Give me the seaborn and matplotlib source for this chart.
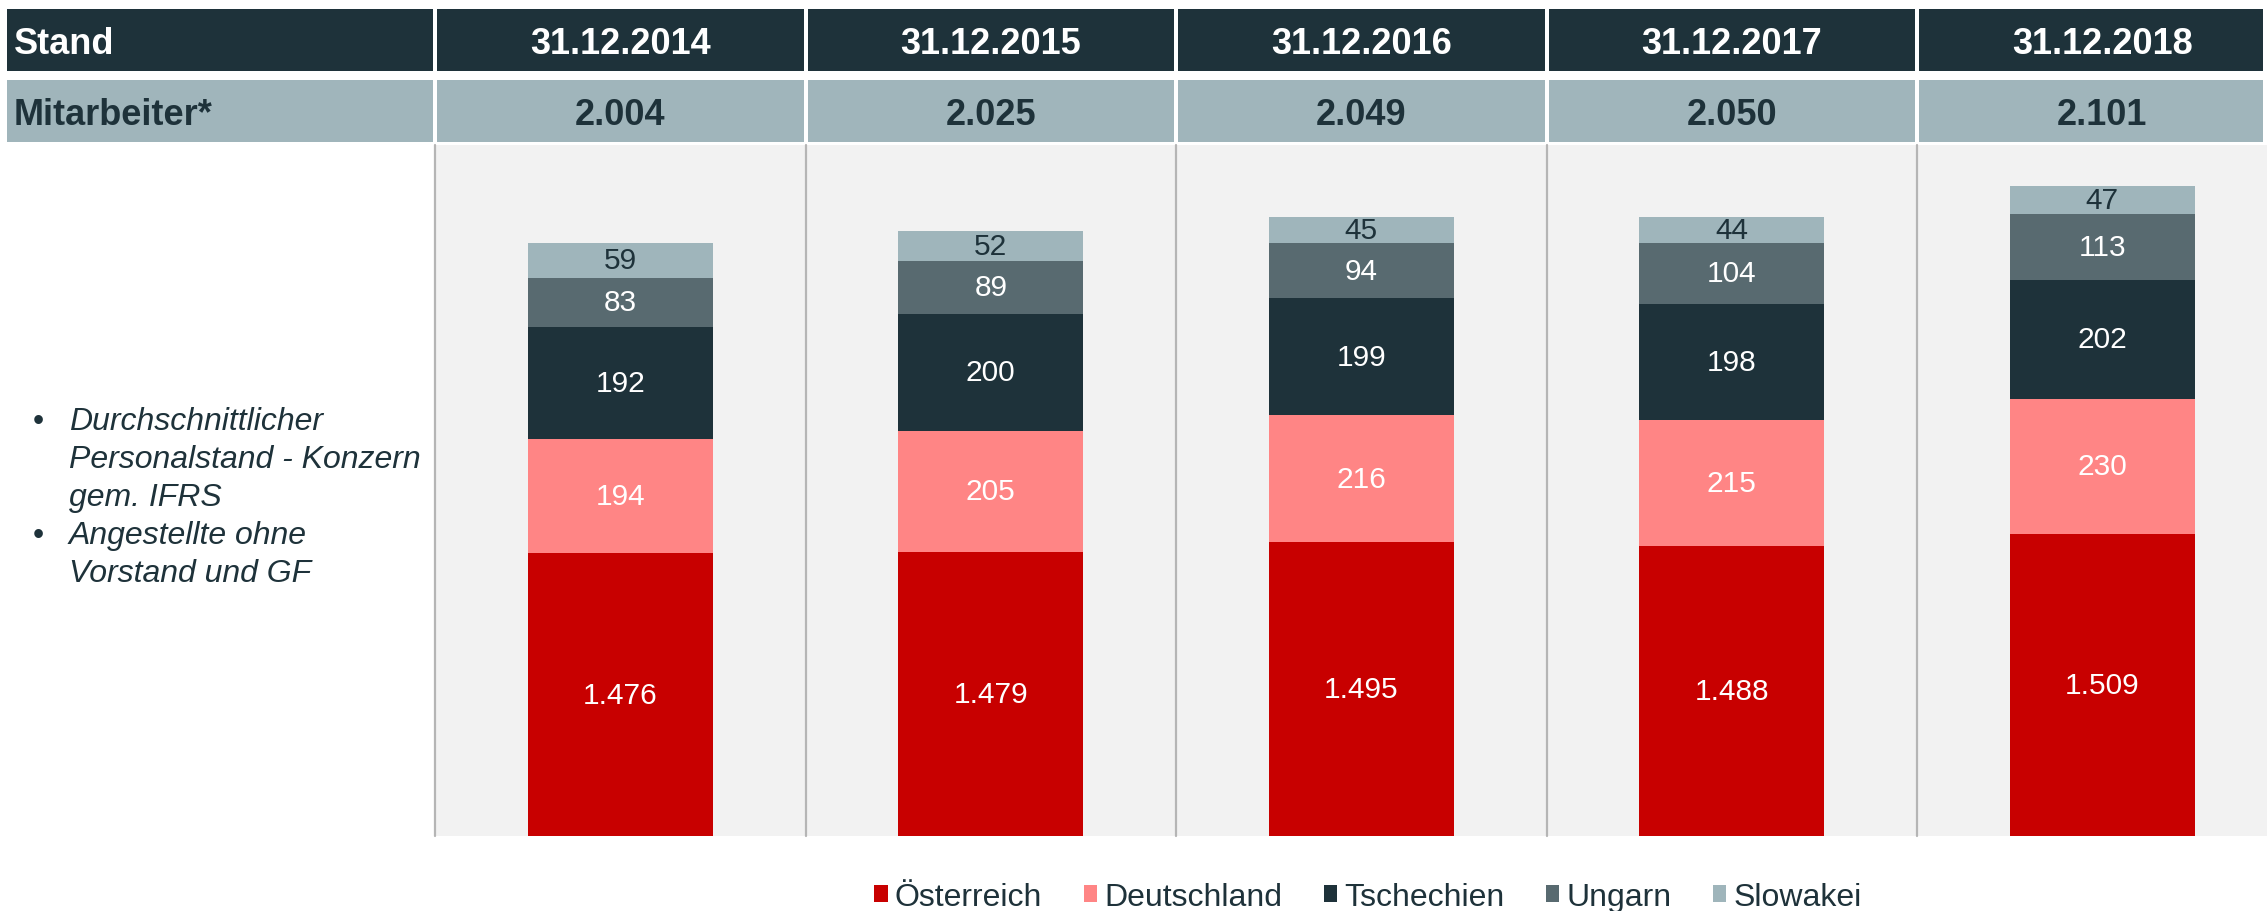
import matplotlib
matplotlib.use("Agg")
import matplotlib.pyplot as plt
from matplotlib.patches import Rectangle, Patch
import seaborn as sns

# ---- data -------------------------------------------------------------
dates = ["31.12.2014", "31.12.2015", "31.12.2016", "31.12.2017", "31.12.2018"]
totals = [2004, 2025, 2049, 2050, 2101]
countries = ["Österreich", "Deutschland", "Tschechien", "Ungarn", "Slowakei"]
oesterreich = [1476, 1479, 1495, 1488, 1509]
deutschland = [194, 205, 216, 215, 230]
tschechien = [192, 200, 199, 198, 202]
ungarn = [83, 89, 94, 104, 113]
slowakei = [59, 52, 45, 44, 47]
series = [oesterreich, deutschland, tschechien, ungarn, slowakei]
colors = ["#c80000", "#ff8585", "#1e323a", "#586a70", "#9fb5bb"]
label_colors = ["white", "white", "white", "white", "#1e323a"]
header_left = ["Stand", "Mitarbeiter*"]
notes = [["Durchschnittlicher", "Personalstand - Konzern", "gem. IFRS"],
         ["Angestellte ohne", "Vorstand und GF"]]

DARK = "#1e323a"
LIGHT = "#a0b5bb"


def fmt(v):
    return f"{v:,}".replace(",", ".")


sns.set_theme(style="white")
plt.rcParams["font.family"] = ["Liberation Sans", "DejaVu Sans"]

W, H = 2267, 912
fig = plt.figure(figsize=(W / 100, H / 100), dpi=100)


def fx(px):
    return px / W


def fy(py):
    return 1 - py / H


# ---- main chart area ----------------------------------------------------
ax_top, ax_bot, ax_left = 146, 837, 435
ax = fig.add_axes([fx(ax_left), fy(ax_bot), fx(W - ax_left), (ax_bot - ax_top) / H])
ax.set_facecolor("#f2f2f2")

bottoms = [0] * len(dates)
for vals, col in zip(series, colors):
    sns.barplot(x=dates, y=vals, bottom=bottoms, color=col, width=0.5,
                saturation=1, errorbar=None, linewidth=0, ax=ax, zorder=2)
    bottoms = [b + v for b, v in zip(bottoms, vals)]

col_w = 370.5
ax.set_xlim(-0.5, -0.5 + (W - ax_left) / col_w)
ymin, ymax = 995, 2171
ax.set_ylim(ymin, ymax)
for s in ax.spines.values():
    s.set_visible(False)
ax.set_xticks([])
ax.set_yticks([])
ax.set_xlabel("")
ax.set_ylabel("")

for i in range(len(dates)):
    ax.axvline(i - 0.5, color="#b5b5b5", lw=1.6, zorder=1, clip_on=False)

# segment value labels
bottoms = [0] * len(dates)
for vals, lc in zip(series, label_colors):
    for i, v in enumerate(vals):
        lo = max(bottoms[i], ymin)
        hi = bottoms[i] + v
        ax.text(i, (lo + hi) / 2, fmt(v), ha="center", va="center",
                fontsize=21.5, color=lc, zorder=3)
    bottoms = [b + v for b, v in zip(bottoms, vals)]

# ---- header table -------------------------------------------------------
rows = [(10, 72, DARK, "white"), (81, 143, LIGHT, DARK)]
row_texts = [dates, [fmt(t) for t in totals]]
fig.canvas.draw()
to_px = ax.transData.transform
for (y0, y1, bg, fg), left_txt, texts in zip(rows, header_left, row_texts):
    fig.add_artist(Rectangle((fx(7), fy(y1)), (433 - 7) / W, (y1 - y0) / H,
                             transform=fig.transFigure, facecolor=bg, edgecolor="none"))
    fig.text(fx(14), fy((y0 + y1) / 2), left_txt, ha="left", va="center_baseline",
             fontsize=26, fontweight="bold", color=fg)
    for i, t in enumerate(texts):
        x0 = to_px((i - 0.5, 0))[0] + 2
        x1 = min(to_px((i + 0.5, 0))[0] - 2, 2263)
        xc = to_px((i, 0))[0]
        fig.add_artist(Rectangle((fx(x0), fy(y1)), (x1 - x0) / W, (y1 - y0) / H,
                                 transform=fig.transFigure, facecolor=bg, edgecolor="none"))
        fig.text(fx(xc), fy((y0 + y1) / 2), t, ha="center", va="center_baseline",
                 fontsize=26, fontweight="bold", color=fg)

# ---- notes on the left --------------------------------------------------
base = 430
for block in notes:
    for j, line in enumerate(block):
        if j == 0:
            fig.text(fx(33), fy(base), "•", ha="left", va="baseline",
                     fontsize=23, color=DARK)
        fig.text(fx(69), fy(base), line, ha="left", va="baseline",
                 fontsize=23, style="italic", color=DARK)
        base += 38

# ---- legend -------------------------------------------------------------
handles = [Patch(facecolor=c, edgecolor="none") for c in colors]
leg = fig.legend(handles, countries, loc="center", bbox_to_anchor=(fx(1368), fy(898)),
                 ncol=5, frameon=False, fontsize=23, handlelength=0.42, handleheight=0.42,
                 handletextpad=0.22, columnspacing=1.3)
for t in leg.get_texts():
    t.set_color(DARK)

fig.savefig("out.png", dpi=100)
